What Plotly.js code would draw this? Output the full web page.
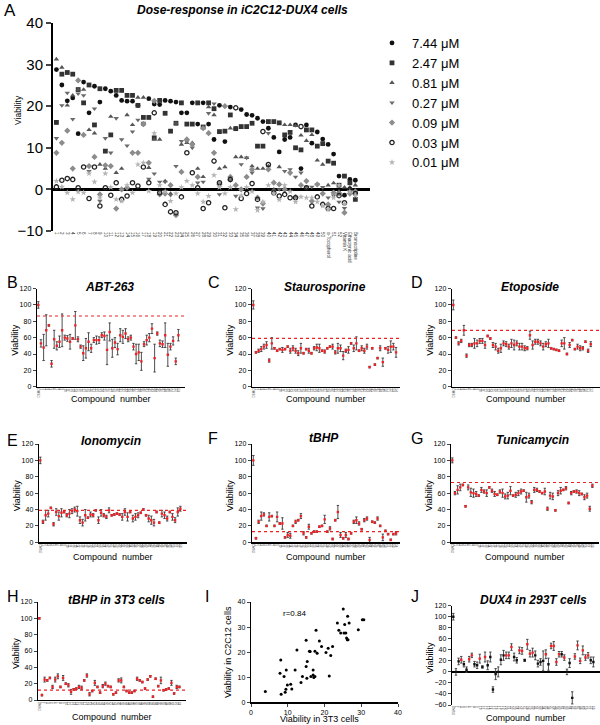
<!DOCTYPE html>
<html><head><meta charset="utf-8">
<script src="https://cdn.plot.ly/plotly-3.0.1.min.js"></script>
<style>html,body{margin:0;padding:0;background:#fff}#chart{width:600px;height:725px}</style>
</head><body><div id="chart"></div>
<script>
// ---------- Panel A data ----------
const compoundsA = ["1","2","3","4","5","6","7","8","9","10","11","12","13","14","15","16","17","18","19","20","21","22","23","24","25","26","27","28","29","30","31","32","33","34","35","36","37","38","39","40","41","42","43","44","45","46","47","48","49","50","α-Tocopherol","51","52","Vitamin K","Ethacrynic acid","Bromocriptine"];
const doseLabels = ["7.44 μM","2.47 μM","0.81 μM","0.27 μM","0.09 μM","0.03 μM","0.01 μM"];
const dose744 = [28.8,25.1,21.3,22.0,13.4,25.8,18.4,24.8,21.0,24.2,23.6,22.6,21.4,21.2,21.2,20.2,15.7,21.8,20.5,20.4,21.4,21.2,21.0,18.4,18.4,20.8,15.7,20.8,15.7,12.0,20.2,11.5,19.8,14.6,19.2,18.0,17.8,17.1,16.3,14.7,12.5,9.0,12.0,12.5,15.5,5.0,15.5,11.1,13.8,12.1,10.8,8.5,3.2,-1.4,2.4,2.2];
const dose247 = [16.1,27.7,28.1,27.7,24.0,20.8,25.1,15.5,24.2,9.2,13.1,23.8,23.8,22.6,22.6,20.2,17.3,17.3,12.4,21.4,18.3,14.0,15.9,20.8,15.7,15.7,20.8,15.0,20.8,19.4,13.9,14.0,17.9,14.6,15.1,15.1,15.9,10.4,10.4,16.3,16.3,16.0,13.1,13.7,10.0,9.5,14.3,14.3,10.4,11.0,6.8,6.3,1.0,3.2,1.6,-2.4];
const dose081 = [31.3,29.3,20.2,22.6,24.0,24.0,14.3,13.5,6.0,5.0,17.5,4.0,5.0,17.9,15.5,22.1,22.1,5.2,12.0,12.0,2.0,-1.0,15.9,10.8,11.2,11.2,5.0,3.0,19.8,17.9,5.0,5.4,14.7,7.8,7.8,7.6,5.6,5.0,5.0,5.6,0.0,5.4,15.5,15.5,15.3,13.0,11.7,13.1,7.0,6.0,1.0,1.5,-0.5,0.5,0.5,1.0];
const dose027 = [12.3,20.2,23.2,16.9,23.0,22.6,4.4,19.4,-2.8,12.3,8.8,17.1,12.0,10.5,13.9,16.7,16.0,2.5,3.8,1.8,1.8,-1.4,5.6,11.6,11.5,10.0,1.6,1.8,18.3,20.6,-1.2,20.0,2.2,-1.6,6.0,7.6,4.0,-4.4,-4.6,13.5,-0.5,0.0,4.4,4.8,3.0,4.0,0.6,0.6,1.2,0.5,-2.0,-1.5,-3.0,-4.5,-0.5,-1.0];
const dose009 = [8.8,11.2,14.1,5.0,26.2,13.1,5.6,7.8,-1.2,5.8,5.6,-4.6,0.0,0.4,8.8,8.8,15.7,6.4,21.3,-1.2,-1.0,1.0,-6.2,4.2,12.0,10.8,3.0,14.7,13.5,8.8,1.2,20.0,3.0,1.0,0.0,3.0,4.8,-2.0,-3.4,4.8,1.6,1.2,0.0,4.0,-1.8,1.0,2.0,-2.8,1.2,-1.0,-3.6,-0.8,-1.0,-5.6,-1.0,-0.5];
const dose003 = [0.6,2.2,2.6,2.4,0.4,5.4,-2.2,5.4,-4.0,0.4,-1.4,1.6,-2.4,-1.6,1.6,0.8,5.4,1.6,18.4,-0.8,-3.6,-5.4,-5.6,-1.8,8.8,4.0,0.4,-4.6,-3.2,6.8,1.6,-4.4,2.4,19.6,-2.2,-1.0,1.4,-2.4,13.9,6.0,-0.8,-1.6,-1.2,-2.0,-2.0,15.1,0.4,-4.0,-1.8,-3.6,-4.6,-4.6,-1.5,-3.2,0.0,-1.0];
const dose001 = [2.0,0.6,-0.8,-2.4,-0.6,-0.8,3.8,1.8,-2.0,3.8,0.5,-2.4,-2.8,1.0,-0.8,6.0,6.4,-0.4,13.5,1.0,-0.5,-2.8,-1.0,0.5,2.0,1.0,-1.0,-3.0,-1.6,3.4,0.5,-1.0,0.5,-4.8,-1.5,0.5,-0.5,-5.0,-3.0,1.0,-1.0,-2.5,1.0,-0.5,-3.0,-1.8,-2.0,-2.0,-3.0,-4.0,-4.8,-2.0,1.0,-3.5,-0.5,-1.5];

// ---------- Panels B-J data ----------
const compoundNumbers = ["DMSO","1","2","3","4","5","6","7","8","9","10","11","12","13","14","15","16","17","18","19","20","21","22","23","24","25","26","27","28","29","30","31","32","33","34","35","36","37","38","39","40","41","42","43","44","45","46","47","48","49","50","51","52","53","54","55"];
const abt263 = [100,53,48,69,75,28,58,50,55,69,60,59,55,59,75,58,49,41,47,55,47,57,57,57,63,62,45,67,47,54,46,63,61,65,58,60,49,40,42,31,52,57,60,71,35,65,53,52,63,39,49,56,31,63];
const abt263Err = [4,4.5,16,19,1,4,11,5,7,20,3,3.5,9,1,17,3,2,9,12,11,5,3,5,4,3,5,18,11,11,6,7,8,8,6,3,3,4,12,10,11,3,6,5,6,17,2,4,4,15,14,4,5,4,7];
const stauro = [100,42,44,46,49,51,32,53,47,44,46,45,46,49,44,47,44,41,47,41,46,44,41,47,48,47,44,43,47,49,49,42,47,47,38,44,45,53,47,53,44,47,44,49,24,47,27,35,47,30,47,45,49,49,42];
const stauroErr = [5,1,2,3,3,4,2,7,1,1,1,3,1,1,3,3,3,3,6,1,1,3,1,2,4,5,1,2,1,1,3,2,6,4,5,2,4,1,4,8,1,3,3,3,1,1,1,1,3,5,1,4,7,4,6];
const etopo = [100,60,53,56,69,38,51,51,53,53,56,56,51,62,59,51,49,44,47,53,52,49,53,51,53,49,49,47,47,63,51,55,55,53,49,52,53,47,46,45,44,53,53,40,51,57,46,49,47,47,55,44,52];
const etopoErr = [6,1,2,2,6,2,2,2,6,4,3,3,4,1,1,3,4,3,5,3,3,3,5,6,3,4,4,3,2,5,5,3,3,3,4,3,5,1,1,1,1,4,7,1,3,1,1,3,3,2,1,2,3];
const iono = [100,25,33,35,42,22,37,32,36,37,33,35,38,40,38,27,24,33,30,34,33,39,27,36,33,31,39,33,34,35,34,31,37,31,37,29,31,33,36,40,33,29,27,24,37,24,35,33,29,37,31,27,37,41];
const ionoErr = [4,2,6,4,1,2,4,5,5,1,2,5,3,3,6,4,4,7,1,3,2,1,4,4,2,2,3,1,1,1,1,4,4,5,1,4,4,3,1,1,1,4,5,4,1,1,4,4,3,1,4,3,5,3];
const tbhp = [100,5,25,32,34,20,31,32,20,31,23,23,6,9,8,20,25,27,32,11,6,19,11,13,13,19,20,28,13,17,4,27,37,9,5,9,4,11,25,27,23,16,27,29,3,25,24,29,20,6,14,10,3,10,11];
const tbhpErr = [6,1,2,5,2,1,5,1,1,6,1,7,1,3,3,1,2,1,3,2,1,3,1,1,1,1,1,5,1,2,1,1,8,3,1,3,1,1,2,4,2,1,2,2,3,1,1,2,1,4,1,1,1,1,2];
const tunica = [100,60,64,67,70,44,67,61,60,59,57,64,62,60,67,63,59,58,62,60,56,57,63,57,58,60,62,63,55,57,49,64,64,62,60,62,41,57,56,39,60,63,64,66,48,60,62,62,60,59,55,57,41,69];
const tunicaErr = [3,2,5,4,1,1,3,5,5,3,1,3,2,4,1,2,3,1,2,5,3,4,5,1,3,3,3,1,6,3,2,3,2,1,1,4,2,4,4,1,3,4,1,2,1,2,1,2,3,1,3,3,3,2];
const tbhp3t3 = [100,6,25,24,27,16,25,29,16,27,20,18,10,13,14,16,15,24,30,7,11,21,16,9,17,20,17,16,7,9,24,24,16,11,9,9,11,26,24,22,14,25,29,4,26,17,24,12,13,14,21,8,16,16];
const tbhp3t3Err = [1,1,3,1,1,2,3,3,1,3,1,2,3,1,1,2,2,1,2,2,1,3,1,1,2,2,1,1,1,1,2,3,1,1,1,1,1,2,1,1,1,1,1,1,1,1,4,1,1,1,3,1,2,1];
const dux293 = [100,0,19,22,14,4,23,30,14,12,24,9,27,12,27,-32,-4,0,22,30,30,30,45,27,21,39,38,21,50,33,35,30,15,18,20,32,14,47,47,18,32,32,26,0,16,-47,28,48,20,39,26,30,21,18];
const dux293Err = [6,6,6,6,5,5,5,4,5,6,8,2,9,8,9,5,10,9,9,9,6,6,6,7,5,6,6,2,9,6,8,8,6,6,18,8,11,5,8,6,5,5,5,5,8,11,5,8,5,8,5,5,6,9];
const dux293Sig = [0,0,0,1,0,0,1,1,0,0,1,0,1,0,0,0,0,0,0,0,1,1,1,0,0,1,1,0,1,1,1,0,0,0,0,1,0,1,1,1,1,0,1,0,0,0,1,1,1,1,1,1,0,0];
const viab3T3 = [3.9,8.1,7.9,9.0,9.6,9.9,9.5,8.2,9.3,10.8,11.1,12.0,12.5,13.6,14.0,15.0,15.3,15.0,15.2,15.9,16.1,16.3,16.9,16.9,17.1,17.4,17.4,17.7,18.0,18.6,19.2,20.4,21.0,21.3,21.7,22.2,23.5,23.9,24.4,25.1,25.3,25.5,25.8,26.0,26.2,26.3,26.4,26.7,29.2,30.3,30.7];
const viabC2C12 = [4.3,16.9,11.6,10.3,12.9,6.9,5.2,3.2,4.0,7.2,5.3,12.9,20.9,7.9,10.3,14.3,16.3,24.7,9.6,20.4,20.3,10.3,10.9,12.9,9.9,10.3,20.4,28.7,19.6,24.4,22.3,19.9,21.6,10.5,18.7,22.3,31.6,28.7,27.6,37.2,27.6,31.0,27.6,25.6,24.9,34.3,24.9,31.6,28.9,32.9,32.9];
const cutoffs = [86.5,59,69,39,13,73,12];

// ---------- helpers ----------
const W = 600, H = 725;
const FONT = 'Liberation Sans, Arial, Helvetica, sans-serif';
const RED = '#ec2227';
const dx = (l, r) => [l / W, r / W];
const dy = (t, b) => [1 - b / H, 1 - t / H];
const px = x => x / W, py = y => 1 - y / H;

const layout = {
  width: W, height: H, margin: {l: 0, r: 0, t: 0, b: 0},
  paper_bgcolor: '#fff', plot_bgcolor: 'rgba(0,0,0,0)',
  font: {family: FONT, color: '#000'},
  showlegend: true,
  legend: {x: px(372), y: py(28), xanchor: 'left', yanchor: 'top', font: {size: 13, family: FONT},
           bgcolor: 'rgba(0,0,0,0)', traceorder: 'normal', itemwidth: 30, tracegroupgap: 0},
  annotations: [], shapes: []
};
const data = [];

function ann(text, x, y, o) {
  layout.annotations.push(Object.assign({text, x: px(x), y: py(y), xref: 'paper', yref: 'paper',
    showarrow: false, xanchor: 'center', yanchor: 'middle', font: {size: 9, family: FONT, color: '#000'}}, o || {}));
}

// ---------- Panel A ----------
layout.xaxis = {domain: dx(53, 370), anchor: 'y', type: 'category', range: [-0.63, 57.7],
  showline: false, ticks: '', showgrid: false, zeroline: false, tickangle: 90,
  tickmode: 'array', tickvals: compoundsA, ticktext: compoundsA, tickfont: {size: 4.5, color: '#333'}};
layout.yaxis = {domain: dy(23, 231), anchor: 'x', range: [-10, 40], dtick: 10, showline: true,
  linewidth: 2, linecolor: '#000', ticks: 'outside', ticklen: 5, tickwidth: 2, tickfont: {size: 15},
  showgrid: false, zeroline: true, zerolinewidth: 2.5, zerolinecolor: '#000'};

const seriesA = [dose744, dose247, dose081, dose027, dose009, dose003, dose001];
const symA = ['circle', 'square', 'triangle-up', 'triangle-down', 'diamond', 'circle-open', 'star'];
const colA = ['#111', '#333', '#555', '#6a6a6a', '#8c8c8c', '#222', '#b4b4b4'];
const sizeA = [4.8, 4.8, 4.8, 4.8, 4.8, 4.3, 4.8];
seriesA.forEach((s, k) => {
  data.push({type: 'scatter', mode: 'markers', x: compoundsA, y: s, xaxis: 'x', yaxis: 'y',
    name: doseLabels[k], showlegend: true,
    marker: {symbol: symA[k], size: sizeA[k], color: colA[k], line: {width: k === 5 ? 1.3 : 0, color: colA[k]}}});
});
ann('A', 10, 10, {font: {size: 17, family: FONT}});
ann('<b><i>Dose-response in iC2C12-DUX4 cells</i></b>', 242, 10, {font: {size: 12, family: FONT}});
ann('Viability', 18, 110, {textangle: -90, font: {size: 8.5, family: FONT}});

// ---------- small panels ----------
const panels = [
  {n: 2, vals: abt263, err: abt263Err, title: 'ABT-263', letter: 'B', xd: [37, 185], yd: [288.6, 386.7], cut: cutoffs[0], lx: 5, ly: 282, tx: 110, ty: 287},
  {n: 3, vals: stauro, err: stauroErr, title: 'Staurosporine', letter: 'C', xd: [252, 400], yd: [288.6, 386.7], cut: cutoffs[1], lx: 206, ly: 282, tx: 325, ty: 287},
  {n: 4, vals: etopo, err: etopoErr, title: 'Etoposide', letter: 'D', xd: [452, 600], yd: [288.6, 386.7], cut: cutoffs[2], lx: 409, ly: 282, tx: 530, ty: 287},
  {n: 5, vals: iono, err: ionoErr, title: 'Ionomycin', letter: 'E', xd: [39, 187], yd: [444, 542.3], cut: cutoffs[3], lx: 5, ly: 440, tx: 111, ty: 441},
  {n: 6, vals: tbhp, err: tbhpErr, title: 'tBHP', letter: 'F', xd: [252, 400], yd: [444, 542.3], cut: cutoffs[4], lx: 206, ly: 438, tx: 324, ty: 438},
  {n: 7, vals: tunica, err: tunicaErr, title: 'Tunicamycin', letter: 'G', xd: [451, 599], yd: [444, 542.3], cut: cutoffs[5], lx: 409, ly: 438, tx: 532, ty: 440},
  {n: 8, vals: tbhp3t3, err: tbhp3t3Err, title: 'tBHP in 3T3 cells', letter: 'H', xd: [38, 186], yd: [602, 700], cut: cutoffs[6], lx: 5, ly: 596, tx: 116, ty: 600},
  {n: 10, vals: dux293, err: dux293Err, title: 'DUX4 in 293T cells', letter: 'J', xd: [452, 600], yd: [605.7, 705], cut: null, lx: 409, ly: 596, tx: 533, ty: 600}
];

panels.forEach(p => {
  const xa = 'xaxis' + p.n, ya = 'yaxis' + p.n;
  const isJ = p.n === 10;
  const labels = compoundNumbers.slice(0, p.vals.length);
  layout[xa] = {domain: dx(p.xd[0], p.xd[1]), anchor: 'y' + p.n, type: 'category', range: [-0.5, 55.5],
    showline: !isJ, linewidth: 1.3, linecolor: '#000', ticks: '', showgrid: false, zeroline: false,
    tickangle: 90, tickmode: 'array', tickvals: labels, ticktext: labels, tickfont: {size: 3, color: '#444'}};
  layout[ya] = {domain: dy(p.yd[0], p.yd[1]), anchor: 'x' + p.n, range: [isJ ? -60 : 0, 120], dtick: 20,
    showline: true, linewidth: 1.3, linecolor: '#000', ticks: 'outside', ticklen: 3, tickwidth: 1,
    tickfont: {size: 7}, showgrid: false, zeroline: isJ, zerolinecolor: '#000', zerolinewidth: 1.5};
  const colors = isJ ? dux293Sig.map(s => s ? RED : '#111') : RED;
  data.push({type: 'scatter', mode: 'markers', x: labels, y: p.vals, xaxis: 'x' + p.n, yaxis: 'y' + p.n,
    showlegend: false, marker: {symbol: 'square', size: 2.4, color: colors},
    error_y: {type: 'data', array: p.err, visible: true, color: '#3a3a3a', thickness: 0.9, width: 1.2}});
  if (p.cut !== null) {
    layout.shapes.push({type: 'line', xref: 'x' + p.n + ' domain', yref: 'y' + p.n, x0: 0, x1: 1.0,
      y0: p.cut, y1: p.cut, line: {color: RED, width: 1.2, dash: 'dot'}});
  }
  ann(p.letter, p.lx, p.ly, {font: {size: 16, family: FONT}, xanchor: 'left'});
  ann('<b><i>' + p.title + '</i></b>', p.tx, p.ty, {font: {size: 12, family: FONT}});
  ann('Viability', p.xd[0] - 22, (p.yd[0] + p.yd[1]) / 2 + 3, {textangle: -90, font: {size: 9, family: FONT}});
  const cy = {2: 399, 3: 399, 4: 399, 5: 557, 6: 557, 7: 557, 8: 717, 10: 718}[p.n];
  ann('Compound  number', p.xd[0] + 74, cy, {font: {size: 9, family: FONT}});
});

// ---------- Panel I ----------
layout.xaxis9 = {domain: dx(251, 398), anchor: 'y9', range: [0, 40], dtick: 10, showline: true, linewidth: 1.3,
  linecolor: '#000', ticks: 'outside', ticklen: 3, tickfont: {size: 7}, showgrid: false, zeroline: false};
layout.yaxis9 = {domain: dy(602, 702.3), anchor: 'x9', range: [0, 40], dtick: 10, showline: true, linewidth: 1.3,
  linecolor: '#000', ticks: 'outside', ticklen: 3, tickfont: {size: 7}, showgrid: false, zeroline: false};
data.push({type: 'scatter', mode: 'markers', x: viab3T3, y: viabC2C12, xaxis: 'x9', yaxis: 'y9', showlegend: false,
  marker: {symbol: 'circle', size: 3, color: '#000'}});
ann('I', 203, 596, {font: {size: 16, family: FONT}, xanchor: 'left'});
ann('r=0.84', 294, 613, {font: {size: 8, family: FONT}});
ann('Viability in C2C12 cells', 228, 652, {textangle: -90, font: {size: 9, family: FONT}});
ann('Viability in 3T3 cells', 319, 719, {font: {size: 9, family: FONT}});

Plotly.newPlot('chart', data, layout, {staticPlot: true, displayModeBar: false});
</script></body></html>
